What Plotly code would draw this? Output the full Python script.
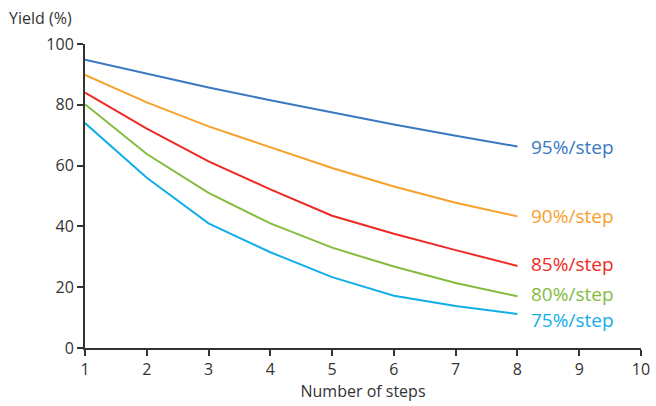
import plotly.graph_objects as go

steps = [1, 2, 3, 4, 5, 6, 7, 8]
y95 = [94.8, 90.3, 85.7, 81.5, 77.4, 73.5, 69.8, 66.3]
y90 = [89.8, 80.8, 72.9, 66.0, 59.2, 53.1, 47.8, 43.3]
y85 = [84.0, 72.2, 61.4, 52.2, 43.5, 37.6, 32.2, 27.0]
y80 = [80.2, 63.8, 51.0, 41.0, 33.0, 26.8, 21.4, 17.0]
y75 = [74.0, 56.0, 41.0, 31.5, 23.3, 17.2, 13.8, 11.2]
labels = ["95%/step", "90%/step", "85%/step", "80%/step", "75%/step"]
label_y = [66.2, 43.4, 27.5, 17.7, 9.2]
colors = ["#3a78c2", "#f7a12b", "#ee2a24", "#84bc3f", "#12aee8"]
series = [y95, y90, y85, y80, y75]

FONT = "Open Sans, Noto Sans, sans-serif"
fig = go.Figure()
for ys, c, name in zip(series, colors, labels):
    fig.add_trace(go.Scatter(x=steps, y=ys, mode="lines", line=dict(color=c, width=2),
                             name=name, showlegend=False))
for lab, ly, c in zip(labels, label_y, colors):
    fig.add_annotation(x=8.19, y=ly, text=lab, showarrow=False, xanchor="left",
                       yanchor="middle", font=dict(size=19, color=c, family=FONT))

fig.add_annotation(x=0, y=1, xref="paper", yref="paper", text="Yield (%)", showarrow=False,
                   xanchor="left", yanchor="middle", xshift=-78, yshift=26,
                   font=dict(size=16, color="#333333", family=FONT))

fig.update_layout(
    width=656, height=406,
    margin=dict(l=85, r=6, t=44, b=58),
    plot_bgcolor="white", paper_bgcolor="white",
    font=dict(family=FONT, size=16, color="#333333"),
    xaxis=dict(range=[1, 10], tickvals=list(range(1, 11)), showgrid=False, zeroline=False,
               showline=True, linecolor="#333333", linewidth=2, ticks="outside", ticklen=6,
               tickcolor="#333333", tickwidth=2, ticklabeloverflow="allow",
               title=dict(text="Number of steps", standoff=6, font=dict(size=16))),
    yaxis=dict(range=[0, 100], tickvals=[0, 20, 40, 60, 80, 100], showgrid=False, zeroline=False,
               showline=True, linecolor="#333333", linewidth=2, ticks="outside", ticklen=6,
               tickcolor="#333333", tickwidth=2),
)
fig.write_html("out.html", config={"displayModeBar": False},
               post_script="document.body.style.margin='0';document.body.style.overflow='hidden';")
